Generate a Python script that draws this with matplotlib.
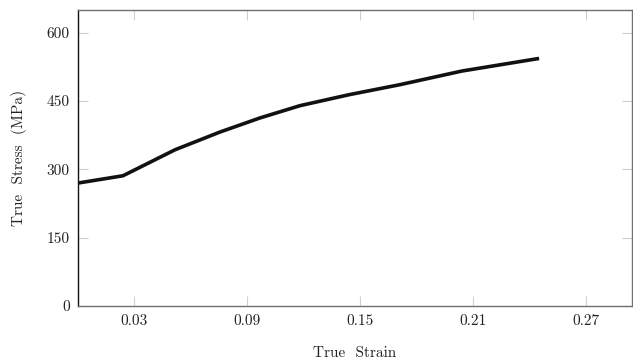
import numpy as np
from matplotlib import pyplot as plt

# true stress-strain curve
strain = [0.0, 0.0239, 0.0515, 0.0754, 0.0967, 0.118, 0.144, 0.171, 0.204, 0.244]
stress = [270, 286, 343, 382, 413, 440, 464, 486, 516, 543]

x_ticks = [0.03, 0.09, 0.15, 0.21, 0.27]
x_ticklabels = ['0.03', '0.09', '0.15', '0.21', '0.27']
y_ticks = [0, 150, 300, 450, 600]

plt.rcParams['font.family'] = 'serif'
plt.rcParams['font.serif'] = ['cmr10', 'DejaVu Serif']
plt.rcParams['mathtext.fontset'] = 'cm'
plt.rcParams['axes.unicode_minus'] = False

fig = plt.figure(figsize=(6.33, 3.61), dpi=100)
ax = fig.add_axes([78 / 633, 55 / 361, 554 / 633, 296 / 361])

ax.plot(strain, stress, color='#111111', linewidth=2.6, solid_joinstyle='miter')

ax.set_xlim(0.0, 0.2943)
ax.set_ylim(0, 650)
ax.set_xticks(x_ticks)
ax.set_xticklabels(x_ticklabels)
ax.set_yticks(y_ticks)

ax.tick_params(axis='both', direction='in', length=7, width=0.8, color='#d0d0d0',
               labelsize=11, labelcolor='#222222', pad=6,
               top=True, right=True)

for side in ['bottom', 'top', 'right']:
    ax.spines[side].set_color('#707070')
    ax.spines[side].set_linewidth(1.0)
ax.spines['left'].set_color('#111111')
ax.spines['left'].set_linewidth(1.0)

ax.set_xlabel('True  Strain', fontsize=11, color='#222222', labelpad=13)
ax.set_ylabel('True  Stress  (MPa)', fontsize=11, color='#222222', labelpad=14)

fig.savefig('out.png', dpi=100)
